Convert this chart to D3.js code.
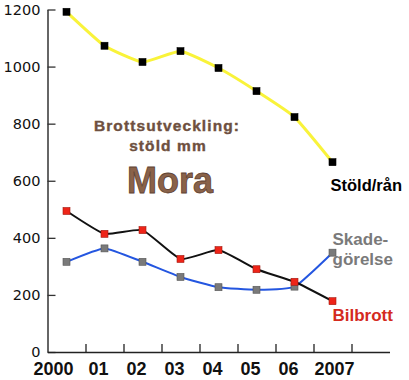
<!DOCTYPE html>
<html>
<head>
<meta charset="utf-8">
<script src="https://cdn.jsdelivr.net/npm/d3@7"></script>
<style>
  body { margin: 0; background: #fff; }
  svg { display: block; }
</style>
</head>
<body>
<div id="chart"></div>
<script>
// data
var years = ['2000', '01', '02', '03', '04', '05', '06', '2007'];
var stold = [1192, 1073, 1016, 1054, 995, 914, 823, 665];
var bilbrott = [494, 414, 427, 326, 357, 290, 246, 178];
var skade = [316, 363, 316, 263, 227, 218, 229, 348];
var yTicks = [0, 200, 400, 600, 800, 1000, 1200];

var W = 409, H = 380;

var svg = d3.select('#chart')
  .append('svg')
    .attr('width', W)
    .attr('height', H);

var x = d3.scaleLinear().domain([-0.5, 8.5]).range([47.5, 389.5]);
var y = d3.scaleLinear().domain([0, 1200]).range([352, 9.5]);

// y axis, ticks pointing into the plot
var yAxis = svg.append('g')
  .attr('transform', 'translate(' + x(-0.5) + ',0)')
  .call(d3.axisLeft(y).tickValues(yTicks).tickFormat(d3.format('d'))
    .tickSize(-8).tickPadding(7).tickSizeOuter(0));
yAxis.select('.domain').attr('stroke', '#333').attr('stroke-width', 1.5);
yAxis.selectAll('.tick line').attr('stroke', '#333').attr('stroke-width', 1.3);
yAxis.selectAll('.tick text')
  .attr('font-family', 'DejaVu Sans')
  .attr('font-size', 14.5)
  .attr('fill', '#111');

// x axis, ticks between the years
var xAxis = svg.append('g')
  .attr('transform', 'translate(0,' + y(0) + ')')
  .call(d3.axisBottom(x).tickValues(d3.range(0.5, 8.5, 1)).tickSize(-8).tickSizeOuter(0).tickFormat(''));
xAxis.select('.domain').attr('stroke', '#222').attr('stroke-width', 1.5);
xAxis.selectAll('.tick line').attr('stroke', '#222').attr('stroke-width', 1.3);

// year labels (hand nudged like the original)
function labelX(d, i) {
  if (i === 0) return x(i) - 13;
  if (i === years.length - 1) return x(i) + 2;
  return x(i) - 6;
}
svg.append('g').selectAll('text')
  .data(years)
  .enter()
  .append('text')
    .attr('x', labelX)
    .attr('y', 375)
    .attr('text-anchor', 'middle')
    .attr('font-family', 'Liberation Sans')
    .attr('font-weight', 'bold')
    .attr('font-size', 18)
    .attr('fill', '#111')
    .text(d => d);

var line = d3.line()
  .x((d, i) => x(i))
  .y(d => y(d))
  .curve(d3.curveCardinal.tension(0.55));

function drawSeries(values, lineColor, lineWidth, markColor, markStroke) {
  svg.append('path')
    .datum(values)
    .attr('d', line)
    .attr('fill', 'none')
    .attr('stroke', lineColor)
    .attr('stroke-width', lineWidth);
  svg.append('g').selectAll('rect')
    .data(values)
    .enter()
    .append('rect')
      .attr('x', (d, i) => x(i) - 3.5)
      .attr('y', d => y(d) - 3.5)
      .attr('width', 7)
      .attr('height', 7)
      .attr('fill', markColor)
      .attr('stroke', markStroke)
      .attr('stroke-width', 0.6);
}

drawSeries(stold, '#f9f33a', 3, '#000', '#000');
drawSeries(skade, '#2456e0', 2, '#7a7a7a', '#555');
drawSeries(bilbrott, '#111', 2, '#ee2418', '#a01810');

// series labels next to the last point
var last = years.length - 1;
svg.append('text')
  .attr('x', x(last) - 2)
  .attr('y', y(stold[last]) + 29)
  .attr('font-family', 'Liberation Sans')
  .attr('font-weight', 'bold')
  .attr('font-size', 16.5)
  .attr('fill', '#000')
  .text('Stöld/rån');

var sk = svg.append('text')
  .attr('font-family', 'Liberation Sans')
  .attr('font-weight', 'bold')
  .attr('font-size', 17)
  .attr('fill', '#7a7a7a');
sk.append('tspan').attr('x', x(last)).attr('y', y(skade[last]) - 8).text('Skade-');
sk.append('tspan').attr('x', x(last)).attr('y', y(skade[last]) + 12).text('görelse');

svg.append('text')
  .attr('x', x(last))
  .attr('y', y(bilbrott[last]) + 20)
  .attr('font-family', 'Liberation Sans')
  .attr('font-weight', 'bold')
  .attr('font-size', 17)
  .attr('fill', '#d42a1e')
  .text('Bilbrott');

// title block
var title = svg.append('g')
  .attr('font-family', 'Liberation Sans')
  .attr('font-weight', 'bold')
  .attr('text-anchor', 'middle');
title.append('text')
  .attr('x', 167).attr('y', 130.5)
  .attr('font-size', 15.5)
  .attr('letter-spacing', 1.1)
  .attr('fill', '#6e5040')
  .attr('stroke', '#6e5040').attr('stroke-width', 0.4)
  .text('Brottsutveckling:');
title.append('text')
  .attr('x', 168).attr('y', 150.5)
  .attr('font-size', 15.5)
  .attr('letter-spacing', 1.1)
  .attr('fill', '#6e5040')
  .attr('stroke', '#6e5040').attr('stroke-width', 0.4)
  .text('stöld mm');
title.append('text')
  .attr('x', 170).attr('y', 193)
  .attr('font-size', 36)
  .attr('fill', '#8a6249')
  .attr('stroke', '#5e4233').attr('stroke-width', 0.8)
  .text('Mora');
</script>
</body>
</html>
